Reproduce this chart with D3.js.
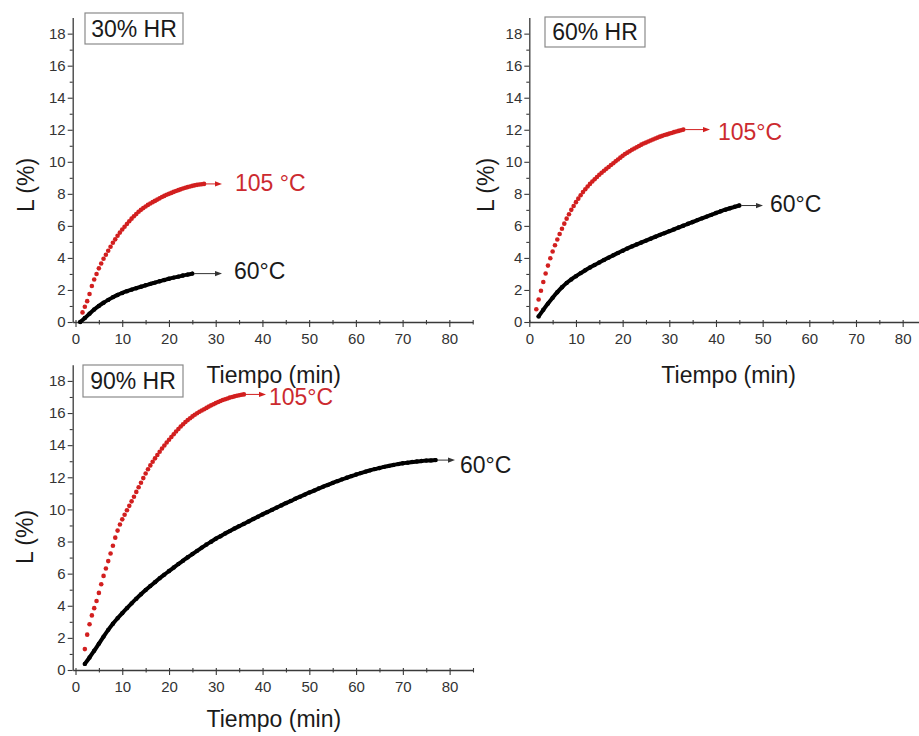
<!DOCTYPE html>
<html>
<head>
<meta charset="utf-8">
<script src="https://cdn.jsdelivr.net/npm/d3@7"></script>
<style>
  html, body { margin: 0; padding: 0; background: #fff; }
  svg { display: block; font-family: "Liberation Sans", Arial, sans-serif; }
</style>
</head>
<body>
<svg id="chart" width="919" height="736"></svg>
<script>
// ---------------- DATA ----------------
const panelTitles = ["30% HR", "60% HR", "90% HR"];
const seriesLabels30 = ["105 °C", "60°C"];
const seriesLabels60 = ["105°C", "60°C"];
const seriesLabels90 = ["105°C", "60°C"];
const xTickValues = [0, 10, 20, 30, 40, 50, 60, 70, 80];
const xMinorTicks = [5, 15, 25, 35, 45, 55, 65, 75, 85];
const yTickValues = [0, 2, 4, 6, 8, 10, 12, 14, 16, 18];
const yMinorTicks = [1, 3, 5, 7, 9, 11, 13, 15, 17];
const xTitle = "Tiempo (min)";
const yTitle = "L (%)";

// 30% HR, 105 °C  [time (min), L (%)]
const red30 = [[1.5,0.6],[2,0.95],[2.5,1.3],[3,1.75],[3.5,2.25],[4,2.65],[4.5,3.0],[5,3.35],[5.5,3.65],[6,3.95],
  [6.5,4.2],[7,4.45],[7.5,4.7],[8,4.95],[8.5,5.16],[9,5.38],[9.5,5.58],[10,5.77],[10.5,5.95],[11,6.12],
  [11.5,6.29],[12,6.45],[12.5,6.6],[13,6.74],[13.5,6.88],[14,7.0],[14.5,7.11],[15,7.21],[15.5,7.31],[16,7.4],
  [16.5,7.48],[17,7.56],[17.5,7.64],[18,7.72],[18.5,7.8],[19,7.87],[19.5,7.94],[20,8.0],[20.5,8.06],[21,8.12],
  [21.5,8.18],[22,8.23],[22.5,8.28],[23,8.33],[23.5,8.38],[24,8.42],[24.5,8.46],[25,8.5],[25.5,8.53],[26,8.56],
  [26.5,8.58],[27,8.6],[27.5,8.62]];
// 30% HR, 60 °C
const black30 = [[1,0.0],[2,0.25],[3,0.52],[4,0.78],[5,1.0],[6,1.2],[7,1.38],[8,1.55],[9,1.69],[10,1.81],
  [11,1.92],[12,2.02],[13,2.11],[14,2.2],[15,2.29],[16,2.38],[17,2.46],[18,2.54],[19,2.62],[20,2.7],
  [21,2.77],[22,2.83],[23,2.9],[24,2.96],[25,3.02]];

// 60% HR, 105 °C
const red60 = [[1.5,0.8],[2,1.4],[2.5,1.95],[3,2.5],[3.5,3.03],[4,3.52],[4.5,3.98],[5,4.4],[5.5,4.79],[6,5.15],
  [6.5,5.49],[7,5.82],[7.5,6.14],[8,6.45],[8.5,6.73],[9,7.0],[9.5,7.24],[10,7.48],[10.5,7.7],[11,7.91],
  [11.5,8.11],[12,8.29],[12.5,8.46],[13,8.62],[13.5,8.77],[14,8.91],[14.5,9.05],[15,9.19],[15.5,9.32],[16,9.44],
  [16.5,9.56],[17,9.68],[17.5,9.8],[18,9.91],[18.5,10.03],[19,10.14],[19.5,10.26],[20,10.37],[20.5,10.48],[21,10.57],
  [21.5,10.66],[22,10.75],[22.5,10.83],[23,10.91],[23.5,10.99],[24,11.07],[24.5,11.14],[25,11.2],[25.5,11.27],[26,11.33],
  [26.5,11.39],[27,11.45],[27.5,11.51],[28,11.57],[28.5,11.62],[29,11.67],[29.5,11.71],[30,11.76],[30.5,11.8],[31,11.85],
  [31.5,11.89],[32,11.93],[32.5,11.97],[33,12.01]];
// 60% HR, 60 °C
const black60 = [[2,0.35],[3,0.76],[4,1.15],[5,1.52],[6,1.86],[7,2.17],[8,2.44],[9,2.66],[10,2.86],[11,3.05],
  [12,3.23],[13,3.4],[14,3.56],[15,3.72],[16,3.87],[17,4.02],[18,4.17],[19,4.31],[20,4.45],[21,4.59],
  [22,4.72],[23,4.84],[24,4.96],[25,5.08],[26,5.2],[27,5.32],[28,5.44],[29,5.55],[30,5.67],[31,5.78],
  [32,5.9],[33,6.01],[34,6.13],[35,6.24],[36,6.36],[37,6.47],[38,6.58],[39,6.69],[40,6.8],[41,6.91],
  [42,7.01],[43,7.1],[44,7.19],[45,7.27]];

// 90% HR, 105 °C
const red90 = [[2,1.3],[2.5,2.2],[3,2.85],[3.5,3.4],[4,3.85],[4.5,4.3],[5,4.8],[5.5,5.34],[6,5.86],[6.5,6.32],
  [7,6.78],[7.5,7.25],[8,7.74],[8.5,8.24],[9,8.68],[9.5,9.06],[10,9.38],[10.5,9.67],[11,9.95],[11.5,10.22],
  [12,10.5],[12.5,10.79],[13,11.09],[13.5,11.38],[14,11.66],[14.5,11.95],[15,12.24],[15.5,12.5],[16,12.74],[16.5,12.97],
  [17,13.18],[17.5,13.39],[18,13.59],[18.5,13.79],[19,13.98],[19.5,14.17],[20,14.34],[20.5,14.51],[21,14.68],[21.5,14.85],
  [22,15.01],[22.5,15.16],[23,15.3],[23.5,15.44],[24,15.56],[24.5,15.68],[25,15.79],[25.5,15.89],[26,15.99],[26.5,16.08],
  [27,16.16],[27.5,16.24],[28,16.32],[28.5,16.4],[29,16.48],[29.5,16.55],[30,16.62],[30.5,16.69],[31,16.75],[31.5,16.81],
  [32,16.86],[32.5,16.91],[33,16.96],[33.5,17.0],[34,17.04],[34.5,17.08],[35,17.11],[35.5,17.14],[36,17.16]];
// 90% HR, 60 °C
const black90 = [[2,0.38],[3,0.78],[4,1.2],[5,1.64],[6,2.08],[7,2.5],[8,2.88],[9,3.22],[10,3.54],[11,3.85],
  [12,4.15],[13,4.44],[14,4.72],[15,4.98],[16,5.23],[17,5.47],[18,5.71],[19,5.94],[20,6.16],[21,6.38],
  [22,6.6],[23,6.81],[24,7.02],[25,7.22],[26,7.42],[27,7.62],[28,7.81],[29,7.99],[30,8.17],[31,8.33],
  [32,8.5],[33,8.65],[34,8.81],[35,8.96],[36,9.1],[37,9.25],[38,9.4],[39,9.54],[40,9.69],[41,9.83],
  [42,9.97],[43,10.11],[44,10.25],[45,10.39],[46,10.52],[47,10.66],[48,10.79],[49,10.92],[50,11.05],[51,11.17],
  [52,11.3],[53,11.42],[54,11.53],[55,11.65],[56,11.76],[57,11.87],[58,11.97],[59,12.07],[60,12.17],[61,12.26],
  [62,12.35],[63,12.43],[64,12.51],[65,12.58],[66,12.65],[67,12.71],[68,12.77],[69,12.82],[70,12.87],[71,12.91],
  [72,12.95],[73,12.98],[74,13.01],[75,13.04],[76,13.05],[77,13.07]];

// ---------------- DRAWING ----------------
const RED = "#d21f1f";
const RED_TEXT = "#cc2a2f";
const AXIS = "#3a3a3a";
const svg = d3.select("#chart");

const panels = [
  { title: panelTitles[0], labels: seriesLabels30, red: red30, black: black30,
    xDom: [-0.6, 85], xRange: [72.7, 472.7], yBottom: 322, yPx: 16.02,
    box: [85, 13, 98, 31], yTitleX: 34, yTitleY: 185, xTitleY: 383,
    arrows: { red: [222, 235, 7.5], black: [222, 234, 5] } },
  { title: panelTitles[1], labels: seriesLabels60, red: red60, black: black60,
    xDom: [0, 85], xRange: [529.3, 926], yBottom: 322, yPx: 16.02,
    box: [545, 17, 100, 30], yTitleX: 494, yTitleY: 185, xTitleY: 383,
    arrows: { red: [710, 718, 10], black: [763, 770, 6] } },
  { title: panelTitles[2], labels: seriesLabels90, red: red90, black: black90,
    xDom: [-0.6, 85], xRange: [72.7, 473], yBottom: 670, yPx: 16.06,
    box: [83, 365, 100, 32], yTitleX: 33, yTitleY: 537, xTitleY: 727,
    arrows: { red: [266, 269, 10.5], black: [455, 460, 13] } }
];

panels.forEach(p => {
  const g = svg.append("g");
  const x = d3.scaleLinear().domain(p.xDom).range(p.xRange);
  const y = d3.scaleLinear().domain([0, 19]).range([p.yBottom, p.yBottom - 19 * p.yPx]);

  // Y axis
  g.append("g").attr("transform", `translate(${p.xRange[0]},0)`)
    .call(d3.axisLeft(y).tickValues(yTickValues).tickSizeInner(5).tickSizeOuter(0).tickPadding(2));
  g.append("g").attr("transform", `translate(${p.xRange[0]},0)`)
    .call(d3.axisLeft(y).tickValues(yMinorTicks).tickSizeInner(3).tickSizeOuter(0).tickFormat(""))
    .select(".domain").remove();

  // X axis
  const xAx = g.append("g").attr("transform", `translate(0,${p.yBottom})`)
    .call(d3.axisBottom(x).tickValues(xTickValues).tickSizeInner(5).tickSizeOuter(0).tickPadding(6));
  xAx.selectAll(".tick line").attr("y1", -2);
  const xm = g.append("g").attr("transform", `translate(0,${p.yBottom})`)
    .call(d3.axisBottom(x).tickValues(xMinorTicks).tickSizeInner(2.5).tickSizeOuter(0).tickFormat(""));
  xm.select(".domain").remove();
  xm.selectAll(".tick line").attr("y1", -2);

  g.selectAll(".domain").attr("stroke", AXIS).attr("stroke-width", 1.3);
  g.selectAll(".tick line").attr("stroke", AXIS).attr("stroke-width", 1.1);
  g.selectAll(".tick text").attr("fill", "#333").style("font-size", "15px")
    .style("font-family", "'Liberation Sans', Arial, sans-serif");

  // Axis titles
  g.append("text").attr("transform", `translate(${p.yTitleX},${p.yTitleY}) rotate(-90)`)
    .attr("text-anchor", "middle").attr("fill", "#1a1a1a").style("font-size", "23px").text(yTitle);
  g.append("text").attr("x", (p.xRange[0] + Math.min(p.xRange[1], x(85))) / 2 + 1).attr("y", p.xTitleY)
    .attr("text-anchor", "middle").attr("fill", "#1a1a1a").style("font-size", "23px").text(xTitle);

  // Title box
  g.append("rect").attr("x", p.box[0]).attr("y", p.box[1]).attr("width", p.box[2]).attr("height", p.box[3])
    .attr("fill", "#fff").attr("stroke", "#8a8a8a").attr("stroke-width", 1.2);
  g.append("text").attr("x", p.box[0] + p.box[2] / 2).attr("y", p.box[1] + p.box[3] / 2 + 8.3)
    .attr("text-anchor", "middle").attr("fill", "#1a1a1a").style("font-size", "23px").text(p.title);

  // Black series: dense points -> thick continuous trace + dots
  const line = d3.line().x(d => x(d[0])).y(d => y(d[1])).curve(d3.curveCatmullRom);
  g.append("path").datum(p.black).attr("d", line).attr("fill", "none")
    .attr("stroke", "#000").attr("stroke-width", 4).attr("stroke-linecap", "round");
  g.selectAll(".bdot").data(p.black).enter().append("circle")
    .attr("cx", d => x(d[0])).attr("cy", d => y(d[1])).attr("r", 2.2).attr("fill", "#000");

  // Red series: dots
  g.selectAll(".rdot").data(p.red).enter().append("circle")
    .attr("cx", d => x(d[0])).attr("cy", d => y(d[1])).attr("r", 2.3).attr("fill", RED);

  // Arrows + labels
  function arrow(series, cfg, color, textColor, label) {
    const [tipX, labelX, dy] = cfg;
    const last = series[series.length - 1];
    const x0 = x(last[0]) + 2, yy = y(last[1]);
    g.append("line").attr("x1", x0).attr("x2", tipX - 5).attr("y1", yy).attr("y2", yy)
      .attr("stroke", color).attr("stroke-width", 1);
    g.append("path").attr("d", `M${tipX},${yy} L${tipX - 7},${yy - 2.6} L${tipX - 7},${yy + 2.6} Z`)
      .attr("fill", color);
    g.append("text").attr("x", labelX).attr("y", yy + dy).attr("fill", textColor)
      .style("font-size", "23px").text(label);
  }
  arrow(p.red, p.arrows.red, RED, RED_TEXT, p.labels[0]);
  arrow(p.black, p.arrows.black, "#333", "#1a1a1a", p.labels[1]);
});
</script>
</body>
</html>
